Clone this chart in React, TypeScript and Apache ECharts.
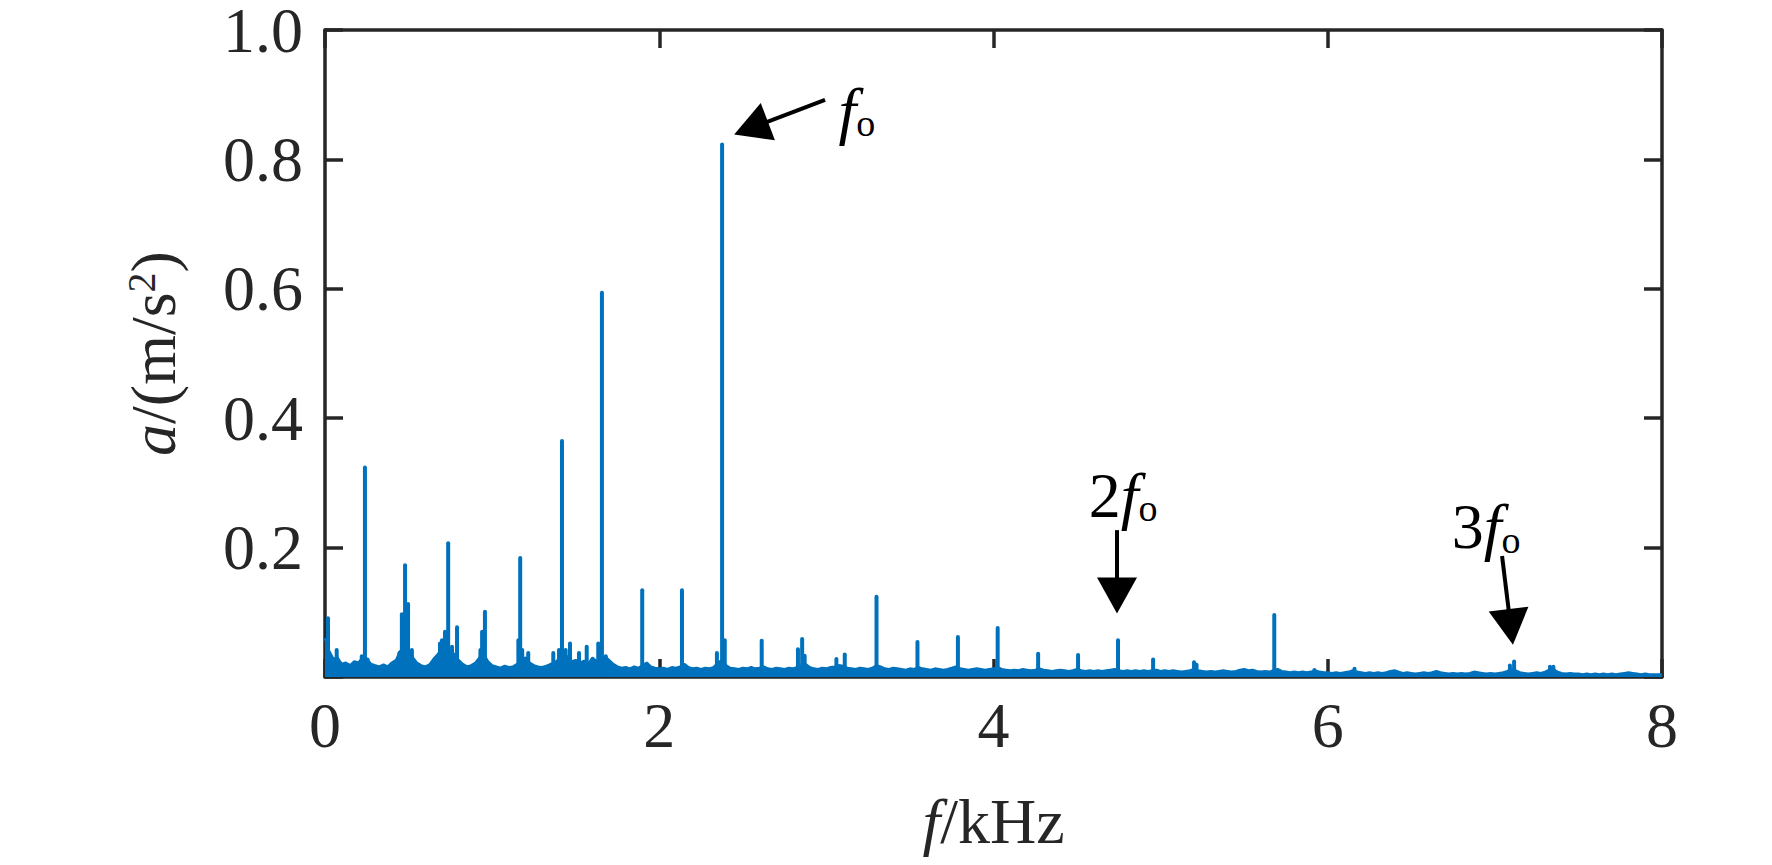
import React, { useEffect, useRef } from 'react';
import * as echarts from 'echarts';

// Noise floor of the spectrum, sampled every floorStep kHz (0 … 8 kHz)
const floorStep = 0.025;
const floorLevels = [
  // 0.000 – 0.975
  0.060, 0.040, 0.028, 0.030, 0.020, 0.022, 0.018, 0.024, 0.022, 0.030,
  0.028, 0.020, 0.018, 0.016, 0.019, 0.016, 0.022, 0.026, 0.040, 0.045,
  0.040, 0.030, 0.022, 0.018, 0.016, 0.019, 0.028, 0.035, 0.045, 0.050,
  0.040, 0.035, 0.026, 0.020, 0.016, 0.018, 0.022, 0.030, 0.035, 0.024,
  // 1.000 – 1.975
  0.018, 0.016, 0.014, 0.017, 0.015, 0.016, 0.020, 0.026, 0.030, 0.022,
  0.018, 0.016, 0.015, 0.017, 0.020, 0.022, 0.028, 0.030, 0.032, 0.024,
  0.026, 0.022, 0.025, 0.020, 0.030, 0.024, 0.028, 0.032, 0.026, 0.020,
  0.016, 0.014, 0.015, 0.013, 0.016, 0.014, 0.018, 0.022, 0.016, 0.014,
  // 2.000 – 2.975
  0.013, 0.014, 0.012, 0.015, 0.014, 0.016, 0.020, 0.015, 0.013, 0.014,
  0.012, 0.014, 0.013, 0.015, 0.022, 0.026, 0.018, 0.014, 0.013, 0.012,
  0.014, 0.013, 0.015, 0.013, 0.014, 0.016, 0.013, 0.012, 0.014, 0.013,
  0.012, 0.014, 0.013, 0.015, 0.018, 0.020, 0.015, 0.013, 0.012, 0.014,
  // 3.000 – 3.975
  0.013, 0.015, 0.016, 0.018, 0.017, 0.014, 0.013, 0.012, 0.014, 0.013,
  0.012, 0.014, 0.018, 0.016, 0.013, 0.012, 0.014, 0.013, 0.012, 0.011,
  0.013, 0.012, 0.015, 0.013, 0.012, 0.011, 0.013, 0.012, 0.011, 0.012,
  0.014, 0.016, 0.013, 0.012, 0.011, 0.012, 0.013, 0.012, 0.011, 0.012,
  // 4.000 – 4.975
  0.013, 0.015, 0.012, 0.011, 0.010, 0.011, 0.010, 0.012, 0.011, 0.010,
  0.011, 0.013, 0.011, 0.010, 0.009, 0.010, 0.011, 0.010, 0.009, 0.010,
  0.012, 0.010, 0.009, 0.010, 0.009, 0.010, 0.009, 0.010, 0.011, 0.012,
  0.010, 0.009, 0.010, 0.009, 0.010, 0.009, 0.010, 0.009, 0.010, 0.011,
  // 5.000 – 5.975
  0.009, 0.010, 0.009, 0.010, 0.009, 0.008, 0.009, 0.010, 0.012, 0.010,
  0.009, 0.008, 0.009, 0.008, 0.009, 0.010, 0.009, 0.008, 0.009, 0.011,
  0.012, 0.010, 0.011, 0.009, 0.008, 0.009, 0.008, 0.010, 0.012, 0.009,
  0.008, 0.007, 0.008, 0.007, 0.008, 0.007, 0.008, 0.010, 0.008, 0.007,
  // 6.000 – 6.975
  0.007, 0.006, 0.007, 0.006, 0.007, 0.008, 0.010, 0.008, 0.007, 0.006,
  0.007, 0.006, 0.007, 0.006, 0.007, 0.009, 0.010, 0.008, 0.006, 0.007,
  0.006, 0.005, 0.006, 0.007, 0.006, 0.007, 0.009, 0.007, 0.006, 0.005,
  0.006, 0.005, 0.006, 0.005, 0.006, 0.008, 0.007, 0.006, 0.005, 0.006,
  // 7.000 – 7.975
  0.005, 0.006, 0.007, 0.009, 0.012, 0.010, 0.007, 0.006, 0.005, 0.006,
  0.007, 0.006, 0.008, 0.011, 0.012, 0.008, 0.006, 0.005, 0.006, 0.005,
  0.005, 0.004, 0.005, 0.004, 0.005, 0.004, 0.005, 0.004, 0.005, 0.004,
  0.005, 0.006, 0.007, 0.006, 0.005, 0.004, 0.005, 0.004, 0.004, 0.004,
  // 8.000
  0.004,
];

// Spectral peaks (kHz, m/s^2)
const peakFreqs = [
  0.018, 0.04, 0.07, 0.22, 0.239, 0.255, 0.445, 0.46, 0.479, 0.497,
  0.52, 0.688, 0.70, 0.718, 0.737, 0.76, 0.79, 0.93, 0.94, 0.957,
  1.157, 1.168, 1.18, 1.216, 1.366, 1.40, 1.418, 1.44, 1.466, 1.52,
  1.566, 1.635, 1.657, 1.68, 1.898, 2.136, 2.345, 2.376, 2.392, 2.613,
  2.83, 2.855, 2.87, 3.06, 3.11, 3.30, 3.545, 3.787, 4.025, 4.267,
  4.506, 4.745, 4.955, 5.20, 5.215, 5.68, 5.92, 6.16, 7.09, 7.115,
  7.33, 7.35,
];
const peakAmps = [
  0.094, 0.030, 0.045, 0.035, 0.327, 0.030, 0.040, 0.100, 0.176, 0.116,
  0.045, 0.055, 0.060, 0.073, 0.210, 0.050, 0.080, 0.045, 0.073, 0.104,
  0.060, 0.187, 0.045, 0.040, 0.040, 0.045, 0.368, 0.045, 0.055, 0.040,
  0.050, 0.055, 0.597, 0.035, 0.137, 0.137, 0.040, 0.826, 0.060, 0.059,
  0.046, 0.062, 0.036, 0.031, 0.038, 0.127, 0.057, 0.065, 0.079, 0.039,
  0.037, 0.060, 0.030, 0.026, 0.022, 0.099, 0.014, 0.016, 0.021, 0.027,
  0.019, 0.019,
];

// Axis ticks
const xMin = 0, xMax = 8, xInterval = 2;
const yMin = 0, yMax = 1, yInterval = 0.2;

// Annotations (text + arrows), in data coordinates
const annotationTexts = ['{i|f}{s|o}', '{n|2}{i|f}{s|o}', '{n|3}{i|f}{s|o}'];
const annotationAt = [[3.183, 0.876], [4.775, 0.281], [6.947, 0.232]];
const arrowFrom = [[2.992, 0.892], [4.739, 0.227], [7.043, 0.187]];
const arrowTo = [[2.549, 0.8485], [4.739, 0.126], [7.095, 0.0773]];

const BLUE = '#0072BD';
const AXIS = '#262626';
const FONT = '"Liberation Serif", "Times New Roman", serif';

export default function App() {
  const ref = useRef<HTMLDivElement>(null);

  useEffect(() => {
    document.body.style.margin = '0';
    document.body.style.overflow = 'hidden';
    const chart = echarts.init(ref.current!, null, { renderer: 'svg' });

    const floorData = floorLevels.map((v, i) => [Number((i * floorStep).toFixed(3)), v]);
    const peakData = peakFreqs.map((f, i) => [f, peakAmps[i]]);

    const richBase = {
      i: { fontFamily: FONT, fontStyle: 'italic', fontSize: 64, lineHeight: 64, color: '#000' },
      n: { fontFamily: FONT, fontSize: 64, lineHeight: 64, color: '#000' },
      s: { fontFamily: FONT, fontSize: 38, lineHeight: 36, verticalAlign: 'bottom', color: '#000' },
    };

    const axisCommon = {
      axisLine: { show: true, onZero: false, lineStyle: { color: AXIS, width: 3.5 } },
      axisTick: { show: true, inside: true, length: 18, lineStyle: { color: AXIS, width: 3.5 } },
      splitLine: { show: false },
    };

    chart.setOption({
      animation: false,
      backgroundColor: '#ffffff',
      grid: {
        left: 325,
        right: 110,
        top: 30,
        bottom: 188,
        containLabel: false,
        outerBoundsMode: 'none',
        show: false,
      },
      xAxis: [
        {
          type: 'value',
          min: xMin,
          max: xMax,
          interval: xInterval,
          position: 'bottom',
          ...axisCommon,
          axisLabel: {
            fontFamily: FONT,
            fontSize: 64,
            color: AXIS,
            margin: 16,
          },
          name: '{i|f}{n|/kHz}',
          nameLocation: 'middle',
          nameGap: 112,
          nameTextStyle: {
            rich: {
              i: { fontFamily: FONT, fontStyle: 'italic', fontSize: 64, color: AXIS },
              n: { fontFamily: FONT, fontSize: 64, color: AXIS },
            },
          },
        },
        {
          type: 'value',
          min: xMin,
          max: xMax,
          interval: xInterval,
          position: 'top',
          ...axisCommon,
          axisLabel: { show: false },
        },
      ],
      yAxis: [
        {
          type: 'value',
          min: yMin,
          max: yMax,
          interval: yInterval,
          position: 'left',
          ...axisCommon,
          axisLabel: {
            fontFamily: FONT,
            fontSize: 64,
            lineHeight: 54,
            color: AXIS,
            margin: 22,
            formatter: (v: number) => (v === 0 ? '' : v.toFixed(1)),
          },
          name: '{i|a}{n|/(m/s}{p|2}{n|)}',
          nameLocation: 'middle',
          nameGap: 140,
          nameTextStyle: {
            rich: {
              i: { fontFamily: FONT, fontStyle: 'italic', fontSize: 64, lineHeight: 64, color: AXIS },
              n: { fontFamily: FONT, fontSize: 64, lineHeight: 64, color: AXIS },
              p: { fontFamily: FONT, fontSize: 40, lineHeight: 36, verticalAlign: 'top', color: AXIS },
            },
          },
        },
        {
          type: 'value',
          min: yMin,
          max: yMax,
          interval: yInterval,
          position: 'right',
          ...axisCommon,
          axisLabel: { show: false },
        },
      ],
      series: [
        {
          type: 'line',
          name: 'floor',
          data: floorData,
          showSymbol: false,
          symbol: 'none',
          lineStyle: { color: BLUE, width: 2.5 },
          areaStyle: { color: BLUE, opacity: 1 },
          itemStyle: { color: BLUE },
          silent: true,
          z: 2,
        },
        {
          type: 'bar',
          name: 'peaks',
          data: peakData,
          barWidth: 4,
          itemStyle: { color: BLUE, borderRadius: [2, 2, 0, 0] },
          silent: true,
          z: 3,
          markLine: {
            silent: true,
            animation: false,
            symbol: ['none', 'triangle'],
            symbolSize: [40, 36],
            label: { show: false },
            lineStyle: { color: '#000', width: 4, type: 'solid' },
            emphasis: { disabled: true },
            data: arrowFrom.map((from, i) => [
              { coord: from },
              { coord: arrowTo[i] },
            ]),
          },
          markPoint: {
            silent: true,
            animation: false,
            symbol: 'rect',
            symbolSize: 1,
            itemStyle: { color: 'rgba(0,0,0,0)' },
            label: {
              show: true,
              position: 'inside',
              rich: richBase,
            },
            data: annotationAt.map((c, i) => ({
              coord: c,
              value: i,
              label: { formatter: annotationTexts[i] },
            })),
          },
        },
      ],
    });

    return () => {
      chart.dispose();
    };
  }, []);

  return (
    <div
      ref={ref}
      style={{ position: 'fixed', left: 0, top: 0, width: 1772, height: 865, background: '#fff' }}
    />
  );
}
